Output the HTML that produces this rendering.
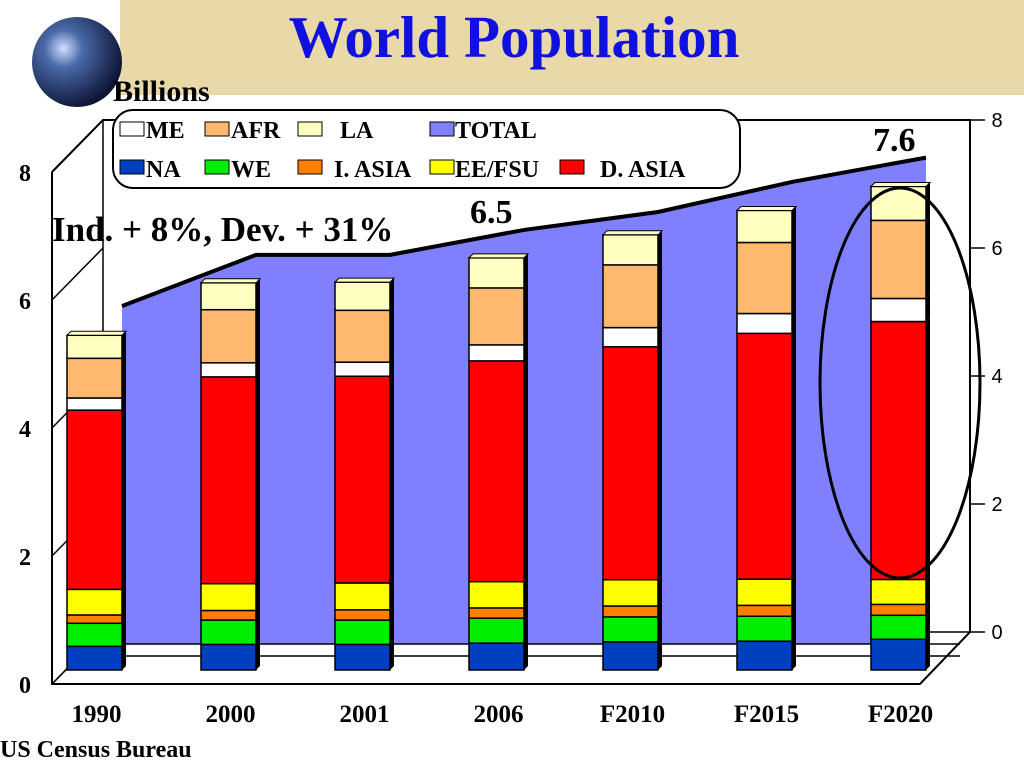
<!DOCTYPE html>
<html><head><meta charset="utf-8"><style>
body{margin:0;background:#fff;width:1024px;height:768px;overflow:hidden}
svg text{font-family:"Liberation Serif",serif;font-weight:bold}
</style></head><body>
<svg id="c" width="1024" height="768">
<defs>
<radialGradient id="g" cx="0.35" cy="0.35" r="0.7"><stop offset="0" stop-color="#cfe0ff"/><stop offset="0.3" stop-color="#4a6aa8"/><stop offset="1" stop-color="#0a1030"/></radialGradient>
</defs>
<rect x="120" y="0" width="904" height="95" fill="#ead9a8"/>
<circle cx="77" cy="62" r="45" fill="url(#g)"/>
<text x="514" y="57" font-size="59" fill="#1010e0" text-anchor="middle">World Population</text>
<text x="113" y="101" font-size="30">Billions</text>
<g id="grid"></g><g id="area"></g><g id="bars"></g>
<g>
<rect x="113" y="110" width="627" height="78" rx="20" fill="#fff" stroke="#000" stroke-width="2"/>
<g font-size="24">
<rect x="120" y="122" width="24" height="14" fill="#fff" stroke="#000"/><text x="146" y="138">ME</text>
<rect x="205" y="122" width="24" height="14" fill="#ffb870" stroke="#000"/><text x="231" y="138">AFR</text>
<rect x="298" y="122" width="24" height="14" fill="#ffffc0" stroke="#000"/><text x="340" y="138">LA</text>
<rect x="430" y="122" width="24" height="14" fill="#8080ff" stroke="#000"/><text x="455" y="138">TOTAL</text>
<rect x="120" y="160" width="24" height="14" fill="#0040c0" stroke="#000"/><text x="146" y="177">NA</text>
<rect x="205" y="160" width="24" height="14" fill="#00ee00" stroke="#000"/><text x="231" y="177">WE</text>
<rect x="298" y="160" width="24" height="14" fill="#ff8000" stroke="#000"/><text x="334" y="177">I. ASIA</text>
<rect x="430" y="160" width="24" height="14" fill="#ffff00" stroke="#000"/><text x="455" y="177">EE/FSU</text>
<rect x="560" y="160" width="24" height="14" fill="#ff0000" stroke="#000"/><text x="600" y="177">D. ASIA</text>
</g></g>
<text x="52" y="241" font-size="35">Ind. + 8%,  Dev. + 31%</text>
<text x="470" y="223" font-size="34">6.5</text>
<text x="873" y="151" font-size="34">7.6</text>
<ellipse cx="900" cy="383" rx="80" ry="195" fill="none" stroke="#000" stroke-width="3"/>
<text x="0" y="757" font-size="24">US Census Bureau</text>
<g id="xl" font-size="25"></g>
</svg>
<script>
const categories=["1990","2000","2001","2006","F2010","F2015","F2020"];
const totals=[5.28,6.08,6.08,6.47,6.75,7.22,7.6];
const na=[0.37,0.4,0.4,0.42,0.44,0.45,0.48];
const we=[0.36,0.38,0.38,0.39,0.39,0.39,0.375];
const iasia=[0.13,0.15,0.16,0.16,0.17,0.17,0.17];
const eefsu=[0.4,0.42,0.42,0.41,0.41,0.41,0.39];
const dasia=[2.8,3.23,3.23,3.45,3.64,3.84,4.03];
const me=[0.19,0.22,0.22,0.25,0.3,0.31,0.36];
const afr=[0.62,0.83,0.81,0.89,0.98,1.11,1.22];
const la=[0.36,0.42,0.44,0.47,0.47,0.5,0.53];
const leftTicks=[0,2,4,6,8];
const NS="http://www.w3.org/2000/svg";
function mk(p,t,a){const e=document.createElementNS(NS,t);for(const k in a)e.setAttribute(k,a[k]);p.appendChild(e);return e;}
const S=64;
const xBar=i=>67+i*134;
const yBar=v=>670-v*S;
const yBack=v=>632-v*S;
const yArea=v=>644-v*S;
const grid=document.getElementById('grid');
mk(grid,'polyline',{points:"52,172 103,120 970,120 970,632 920,684 52,684 52,172",fill:"none",stroke:"#000","stroke-width":2});
mk(grid,'line',{x1:103,y1:120,x2:103,y2:632,stroke:"#000","stroke-width":1.5});
mk(grid,'line',{x1:52,y1:684,x2:103,y2:632,stroke:"#000","stroke-width":1.5});
mk(grid,'line',{x1:103,y1:632,x2:970,y2:632,stroke:"#000","stroke-width":1.5});
leftTicks.forEach(t=>{
  const l=mk(grid,'line',{x1:52,y1:684-t*S,x2:103,y2:yBack(t),stroke:"#000","stroke-width":1.5});
  
  mk(grid,'line',{x1:970,y1:yBack(t),x2:985,y2:yBack(t),stroke:"#000","stroke-width":1.5});
  const a=mk(grid,'text',{x:25,y:684-t*S+9,"font-size":24,"text-anchor":"middle"});a.textContent=t;
  
  const b=mk(grid,'text',{x:997,y:yBack(t)+7,"font-size":20,"text-anchor":"middle"});b.textContent=t;
  b.style.fontFamily='"Liberation Sans",sans-serif';b.style.fontWeight='normal';
  
});
const ag=document.getElementById('area');
let pts=[];totals.forEach((v,i)=>pts.push((xBar(i)+55)+","+yArea(v)));
const poly=mk(ag,'polygon',{points:pts.join(" ")+" 925,644 122,644",fill:"#8080ff"});

const pl=mk(ag,'polyline',{points:pts.join(" "),fill:"none",stroke:"#000","stroke-width":4});

mk(ag,'line',{x1:70,y1:656,x2:960,y2:656,stroke:"#000","stroke-width":1.5});
mk(ag,'line',{x1:70,y1:644,x2:960,y2:644,stroke:"#000","stroke-width":1.5});
const bg=document.getElementById('bars');
const series=[["na",na,"#0040c0"],["we",we,"#00ee00"],["iasia",iasia,"#ff8000"],["eefsu",eefsu,"#ffff00"],["dasia",dasia,"#ff0000"],["me",me,"#ffffff"],["afr",afr,"#ffb870"],["la",la,"#ffffc0"]];
categories.forEach((c,i)=>{
  let cum=0;const x=xBar(i),w=55,d=4;
  series.forEach(([n,arr,col])=>{
    const y0=yBar(cum),y1=yBar(cum+arr[i]);
    mk(bg,'polygon',{points:`${x+w},${y0} ${x+w+d},${y0-d} ${x+w+d},${y1-d} ${x+w},${y1}`,fill:"#000"});
    const r=mk(bg,'rect',{x:x,y:y1,width:w,height:y0-y1,fill:col,stroke:"#000","stroke-width":1.5});
    
    cum+=arr[i];
  });
  const top=yBar(cum);
  mk(bg,'polygon',{points:`${x},${top} ${x+d},${top-d} ${x+w+d},${top-d} ${x+w},${top}`,fill:series[7][2],stroke:"#000"});
  const t=mk(document.getElementById('xl'),'text',{x:x+w/2+2,y:722,"text-anchor":"middle"});t.textContent=c;
  
});
</script>
</body></html>
